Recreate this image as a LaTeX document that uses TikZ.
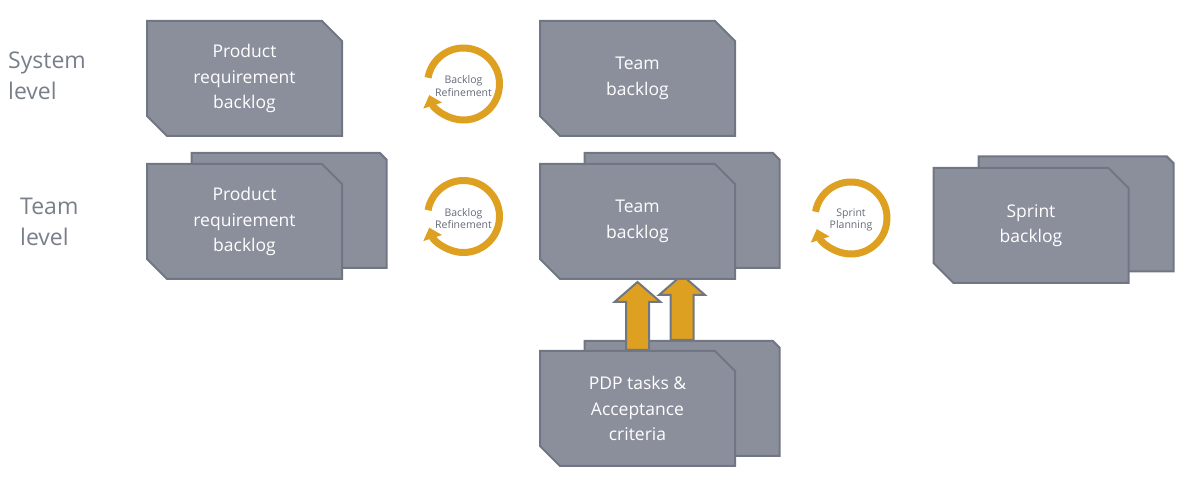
\documentclass[tikz,border=0pt]{standalone}
\usepackage{fontspec}
\setmainfont{Open Sans}
\usepackage{tikz}
\usetikzlibrary{positioning,shapes.misc,arrows.meta,calc,backgrounds}

\definecolor{boxfill}{RGB}{138,143,155}
\definecolor{boxline}{RGB}{112,118,131}
\definecolor{ringcol}{RGB}{221,160,32}
\definecolor{labelgray}{RGB}{120,126,138}
\definecolor{ringgray}{RGB}{100,106,120}

\tikzset{
  backlogbox/.style={chamfered rectangle, chamfered rectangle corners={north east,south west},
    chamfered rectangle xsep=10pt, chamfered rectangle ysep=10pt,
    draw=boxline, fill=boxfill, line width=2pt, minimum width=195pt, minimum height=115pt,
    text=white, align=center, font=\fontsize{17.5}{25.5}\selectfont},
  ring/.style={ringcol, line width=7pt, -{Triangle[width=19pt,length=11pt]}},
  ringtext/.style={align=center, text=ringgray, inner sep=0pt, font=\fontsize{10.5}{12.5}\selectfont},
  levellabel/.style={anchor=west, align=left, text=labelgray, inner sep=0pt, font=\fontsize{23}{31}\selectfont},
  blockarrow/.style={fill=ringcol, draw=boxline, line width=2pt, line join=miter}
}

% block arrow: from, to, tip offset
\newcommand\pushup[3]{%
  \draw[blockarrow] let \p1=(#1), \p2=(#2) in
    (\x1-11.5pt,\y1) -- (\x1-11.5pt,\y2+#3-20pt) -- (\x1-23pt,\y2+#3-20pt) -- (\x1,\y2+#3)
    -- (\x1+23pt,\y2+#3-20pt) -- (\x1+11.5pt,\y2+#3-20pt) -- (\x1+11.5pt,\y1) -- cycle;}

\begin{document}
\begin{tikzpicture}[x=1pt,y=1pt]
  \useasboundingbox (0,0) rectangle (1189,490);
  % level labels
  \node[levellabel] (sysLevel) at (8,414.5) {System\\level};
  \node[levellabel] (teamLevel) at (20,268.5) {Team\\level};
  % front boxes
  \node[backlogbox] (prbSys) at (244.5,411.5) {Product\\requirement\\backlog};
  \node[backlogbox] (tbSys) at (637.5,411.5) {Team\\backlog};
  \node[backlogbox] (prbTeam) at (244.5,268.5) {Product\\requirement\\backlog};
  \node[backlogbox] (tbTeam) at (637.5,268.5) {Team\\backlog};
  \node[backlogbox] (sprint) at (1031,264.5) {Sprint\\backlog};
  \node[backlogbox] (pdp) at (637.5,81.5) {PDP tasks \&\\Acceptance\\criteria};
  % cycles
  \node[ringtext] (refSys) at (463.5,404) {Backlog\\Refinement};
  \node[ringtext] (refTeam) at (463.5,271.5) {Backlog\\Refinement};
  \node[ringtext] (sprintPlan) at (851,270) {Sprint\\Planning};
  \foreach \c in {refSys,refTeam,sprintPlan}
    \draw[ring] ([shift={(170:36pt)}]\c.center) ++(0,2) arc[start angle=170,end angle=-162,radius=36pt];
  % stacked boxes and arrows behind
  \begin{scope}[on background layer]
    \node[backlogbox] (prbTeamBack) at (289,279.5) {};
    \node[backlogbox] (tbTeamBack) at (682,279.5) {};
    \node[backlogbox] (sprintBack) at (1076,276) {};
    \node[backlogbox] (pdpBack) at (682,91.5) {};
    \pushup{pdp.north}{tbTeam.south}{-2pt}
    \pushup{pdpBack.north}{tbTeam.south}{5pt}
  \end{scope}
\end{tikzpicture}
\end{document}
